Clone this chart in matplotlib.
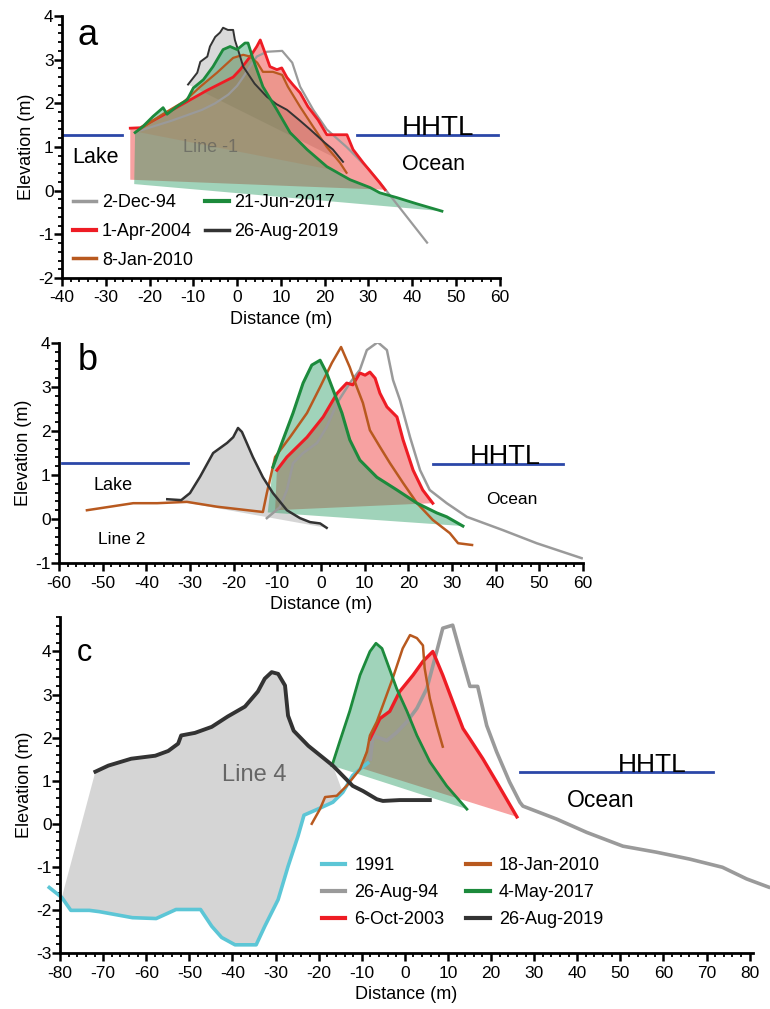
#---------Librerias---------#
import matplotlib
matplotlib.use("Agg")
import matplotlib.pyplot as plt
from matplotlib.lines import Line2D
from matplotlib.ticker import MultipleLocator
#---------Librerias---------#

plt.rcParams['font.family'] = ['Liberation Sans', 'DejaVu Sans']
plt.rcParams['axes.unicode_minus'] = False

#----------Datos panel a----------#
a94_x = [-23, -15, -8, -5, -2, 0, 1.4, 3, 4.5, 6.8, 10.3, 12.6, 14.4, 17.4, 20.5, 25, 30, 33.3, 38, 43.4]
a94_y = [1.35, 1.6, 1.85, 2.0, 2.2, 2.4, 2.6, 2.85, 3.07, 3.18, 3.2, 2.93, 2.38, 1.85, 1.4, 1.0, 0.5, 0.1, -0.5, -1.19]

a04_x = [-24.4, -22.1, -16, -6.8, -0.9, 0.7, 3, 4.5, 5.3, 6.4, 7.5, 9.1, 10.2, 11.4, 12.8, 14.4, 16.2, 18.5,
         20.5, 25.1, 26.5, 28.8, 32.6, 33.8]
a04_y = [1.43, 1.44, 1.78, 2.3, 2.6, 2.77, 3.07, 3.3, 3.45, 3.15, 2.84, 2.77, 2.81, 2.59, 2.42, 2.24, 1.92, 1.62,
         1.28, 1.28, 0.94, 0.64, 0.18, 0.02]
a04_base = (-24.4, 0.25)

a10_x = [-23, -17, -12, -8.4, -4.6, -0.9, 1.4, 3, 4.6, 5.9, 8.2, 10.3, 11.6, 14.4, 17.4, 20.5, 23.5, 25]
a10_y = [1.35, 1.75, 2.05, 2.38, 2.7, 3.04, 3.11, 3.07, 2.93, 2.72, 2.72, 2.65, 2.38, 1.92, 1.46, 1.0, 0.64, 0.41]

a17_x = [-23.3, -21.5, -19.2, -16.9, -16, -13.7, -11.4, -10, -7.7, -5.5, -3.2, -1.6, 0, 1.8, 2.5, 3.7, 5.9,
         9.1, 12.1, 16, 20.5, 25.8, 30.4, 32.6, 36.5, 41, 46.8]
a17_y = [1.33, 1.47, 1.7, 1.9, 1.75, 1.93, 2.08, 2.35, 2.54, 2.84, 3.23, 3.3, 3.23, 3.38, 3.38, 3.0, 2.38,
         1.85, 1.33, 0.94, 0.55, 0.25, 0.07, -0.05, -0.16, -0.3, -0.47]
a17_base = (-23.5, 0.15)

a19_x = [-11.2, -9.1, -8.4, -6.8, -6.2, -5, -3.9, -3.2, -2.1, -0.9, -0.5, 0.7, 1.4, 4.0, 6.8, 9.0, 11.4,
         14.4, 16.7, 20.0, 21.9, 24.2]
a19_y = [2.43, 2.7, 2.95, 3.07, 3.3, 3.52, 3.62, 3.73, 3.68, 3.68, 3.45, 3.07, 2.84, 2.45, 2.15, 1.98, 1.85,
         1.6, 1.4, 1.1, 0.94, 0.66]

#----------Datos panel b----------#
b94_x = [-12.4, -9.4, -7.8, -6.4, -4.1, -0.9, 1.3, 3.7, 6.6, 8.9, 10.5, 13, 15.1, 16.5, 18.1, 20.4, 22.7,
         24.9, 28.8, 33.4, 41.6, 49.4, 59.7]
b94_y = [0.02, 0.27, 0.66, 1.27, 1.5, 1.73, 2.09, 2.64, 3.09, 3.39, 3.84, 4.02, 3.84, 3.16, 2.7, 1.86, 1.11,
         0.66, 0.36, 0.05, -0.25, -0.55, -0.89]

b04_x = [-10.1, -7.8, -3.2, 0.5, 3.7, 5.9, 7.3, 8.9, 10.1, 11.2, 12.4, 13.5, 15.1, 17.4, 18.8, 21.1, 23.3, 25.6]
b04_y = [1.11, 1.41, 1.86, 2.32, 2.86, 3.09, 3.05, 3.32, 3.27, 3.34, 3.2, 2.86, 2.55, 2.32, 1.8, 1.11, 0.66, 0.36]
b04_base = (-10.5, 0.2)

b10_x = [-53.6, -48.3, -43, -37.5, -30.7, -23.8, -13.3, -12.4, -11.7, -10.5, -7.1, -3.2, -0.2, 2.5, 4.6,
         6.6, 8.2, 9.6, 11.2, 13.5, 15.8, 18.8, 22, 25.6, 29.5, 31.4, 34.6]
b10_y = [0.2, 0.28, 0.36, 0.36, 0.39, 0.28, 0.16, 0.59, 0.89, 1.41, 1.86, 2.41, 3.0, 3.55, 3.91,
         3.45, 3.0, 2.64, 2.02, 1.64, 1.27, 0.82, 0.36, -0.02, -0.32, -0.55, -0.59]

b17_x = [-11, -8.7, -6.4, -4.1, -2.1, -0.2, 1.3, 2.8, 4.8, 6.6, 8.9, 12.8, 17.4, 22, 26.5, 28.8, 32.5]
b17_y = [1.18, 1.8, 2.41, 3.09, 3.5, 3.61, 3.32, 2.93, 2.41, 1.8, 1.34, 0.95, 0.66, 0.36, 0.14, 0.05, -0.16]
b17_base = (-12.2, 0.15)

b19_x = [-35.2, -32, -30, -27.7, -24.7, -21.5, -20.1, -19, -18.1, -17, -15.6, -13.3, -11, -7.8, -4.8,
         -2.5, -0.2, 1.3]
b19_y = [0.45, 0.43, 0.59, 0.96, 1.5, 1.73, 1.86, 2.07, 1.98, 1.73, 1.41, 0.95, 0.59, 0.2, 0.02,
         -0.07, -0.1, -0.2]

#----------Datos panel c----------#
c91_x = [-82.5, -79.6, -77.5, -73.2, -70.9, -63.2, -57.7, -53.1, -47.4, -44.8, -42.5, -39.4, -34.5, -32.5,
         -29.4, -27.1, -24.8, -23.4, -20.2, -16.7, -14.4, -12.1, -10.4, -8.6]
c91_y = [-1.48, -1.71, -2.01, -2.01, -2.04, -2.18, -2.2, -1.99, -1.99, -2.38, -2.64, -2.81, -2.81, -2.38,
         -1.76, -0.99, -0.29, 0.2, 0.34, 0.5, 0.73, 1.12, 1.27, 1.41]

c94_x = [-8, -7.4, -4.2, -1.9, 0.5, 2.8, 5.1, 7.4, 8.8, 11.1, 12.8, 15.1, 16.9, 19, 21.3, 24.3, 26.7,
         27.4, 35.2, 42.2, 50.6, 58.4, 66.1, 73.7, 79.3, 84.4]
c94_y = [1.5, 2.05, 1.93, 2.12, 2.37, 2.68, 3.14, 4.0, 4.54, 4.61, 4.0, 3.19, 3.19, 2.28, 1.67, 0.97, 0.5,
         0.41, 0.11, -0.2, -0.52, -0.66, -0.82, -1.01, -1.28, -1.47]

c03_x = [-8.1, -5.8, -3.5, -1.2, 1.9, 4.2, 6.5, 8.8, 11.1, 13.5, 15.1, 18.1, 21.3, 26]
c03_y = [1.97, 2.44, 2.61, 3.07, 3.45, 3.77, 4.0, 3.45, 2.84, 2.21, 1.97, 1.51, 0.97, 0.16]
c03_base = (-10.4, 1.3)

c10_x = [-21.6, -19.7, -18.5, -15.8, -13.5, -12.8, -10.4, -8.8, -8.1, -6.5, -5.1, -2.8, -0.5, 1.2, 2.8,
         4.2, 4.6, 5.8, 7.4, 8.8]
c10_y = [0.0, 0.34, 0.62, 0.65, 0.88, 0.97, 1.27, 1.67, 2.05, 2.37, 2.75, 3.38, 4.07, 4.38, 4.31,
         4.14, 3.61, 2.91, 2.28, 1.79]

c17_x = [-16.9, -15.1, -12.8, -10.4, -8.1, -6.7, -5.3, -4.2, -1.9, 0.5, 2.8, 5.8, 9.7, 14.4]
c17_y = [1.35, 1.91, 2.61, 3.45, 4.0, 4.19, 4.07, 3.77, 3.14, 2.61, 2.05, 1.44, 0.88, 0.34]

c19_x = [-71.8, -68.8, -63.5, -57.9, -54.9, -52.6, -51.9, -48.7, -44.8, -41.1, -37.1, -34.1, -32.5, -30.9,
         -29.4, -27.8, -27.1, -25.8, -22.4, -16.7, -12.1, -9.7, -6.5, -5.1, -1.2, 5.8]
c19_y = [1.21, 1.35, 1.51, 1.58, 1.69, 1.86, 2.05, 2.11, 2.25, 2.49, 2.72, 3.07, 3.37, 3.52,
         3.48, 3.21, 2.51, 2.16, 1.81, 1.35, 0.88, 0.76, 0.57, 0.53, 0.55, 0.55]

#----------Colores---------#
GRIS = '#9a9a9a'
ROJO = '#ee1c24'
CAFE = '#b8591f'
VERDE = '#1c8a3c'
NEGRO = '#333333'
CIAN = '#5cc6d6'
AZUL = '#2b47a8'
R_ROJO = '#ee3030'
R_VERDE = '#2e9e66'
R_GRIS = '#b4b4b4'


def ejes(ax, xmin, xmax, ymin, ymax, ymaj):
    ax.set_xlim(xmin, xmax)
    ax.set_ylim(ymin, ymax)
    ax.spines['top'].set_visible(False)
    ax.spines['right'].set_visible(False)
    ax.spines['left'].set_linewidth(2)
    ax.spines['bottom'].set_linewidth(2)
    ax.xaxis.set_major_locator(MultipleLocator(10))
    ax.xaxis.set_minor_locator(MultipleLocator(2))
    ax.yaxis.set_major_locator(MultipleLocator(ymaj))
    ax.yaxis.set_minor_locator(MultipleLocator(0.2))
    ax.tick_params(which='major', length=5.5, width=1.8, labelsize=12.5, direction='out')
    ax.tick_params(axis='x', which='major', pad=3.5)
    ax.tick_params(axis='y', which='major', pad=0.5)
    ax.tick_params(which='minor', length=3.2, width=1.3, direction='out')
    ax.set_xlabel('Distance (m)', fontsize=13, labelpad=4)
    ax.set_ylabel('Elevation (m)', fontsize=13, labelpad=2)


def relleno(ax, x, y, color, alpha, base=None):
    px = list(x)
    py = list(y)
    if base is not None:
        px.append(base[0])
        py.append(base[1])
    ax.fill(px, py, color=color, alpha=alpha, lw=0)


fig = plt.figure(figsize=(7.70, 10.09), dpi=100)

#----------Panel a----------#
ax1 = fig.add_axes([0.0805, 0.7245, 0.5685, 0.2597])
ejes(ax1, -40, 60, -2, 4, 1)
relleno(ax1, a19_x, a19_y, R_GRIS, 0.5)
relleno(ax1, a04_x, a04_y, R_ROJO, 0.45, a04_base)
relleno(ax1, a17_x, a17_y, R_VERDE, 0.45, a17_base)
relleno(ax1, a10_x, a10_y, CAFE, 0.15)
ax1.plot(a94_x, a94_y, color=GRIS, lw=1.6)
ax1.plot(a04_x, a04_y, color=ROJO, lw=2.0)
ax1.plot(a10_x, a10_y, color=CAFE, lw=1.6)
ax1.plot(a19_x, a19_y, color=NEGRO, lw=1.4)
ax1.plot(a17_x, a17_y, color=VERDE, lw=2.0)
ax1.plot([-40, -26.3], [1.28, 1.28], color=AZUL, lw=2)
ax1.plot([27.5, 59.5], [1.28, 1.28], color=AZUL, lw=2)
ax1.text(-36.5, 3.34, 'a', fontsize=26)
ax1.text(-37.7, 0.64, 'Lake', fontsize=15.5)
ax1.text(37.7, 1.28, 'HHTL', fontsize=20)
ax1.text(37.7, 0.48, 'Ocean', fontsize=15.5)
ax1.text(-12.3, 0.89, 'Line -1', fontsize=13, color='#555555', alpha=0.6)
man_a = [Line2D([], [], color=GRIS, lw=2.5), Line2D([], [], color=ROJO, lw=3),
         Line2D([], [], color=CAFE, lw=2.5), Line2D([], [], color=VERDE, lw=3),
         Line2D([], [], color=NEGRO, lw=2.5)]
ax1.legend(man_a, ['2-Dec-94', '1-Apr-2004', '8-Jan-2010', '21-Jun-2017', '26-Aug-2019'],
           ncol=2, frameon=False, loc='upper left', bbox_to_anchor=(0.025, 0.32), fontsize=13,
           borderpad=0, borderaxespad=0, handlelength=1.3, handletextpad=0.3,
           columnspacing=0.7, labelspacing=0.65)

#----------Panel b----------#
ax2 = fig.add_axes([0.0766, 0.442, 0.6805, 0.218])
ejes(ax2, -60, 60, -1, 4, 1)
relleno(ax2, b19_x, b19_y, R_GRIS, 0.55)
relleno(ax2, b04_x, b04_y, R_ROJO, 0.45, b04_base)
relleno(ax2, b17_x, b17_y, R_VERDE, 0.45, b17_base)
ax2.plot(b94_x, b94_y, color=GRIS, lw=1.8)
ax2.plot(b04_x, b04_y, color=ROJO, lw=2.2)
ax2.plot(b10_x, b10_y, color=CAFE, lw=1.8)
ax2.plot(b17_x, b17_y, color=VERDE, lw=2.2)
ax2.plot(b19_x, b19_y, color=NEGRO, lw=1.8)
ax2.plot([-59.3, -30.4], [1.27, 1.27], color=AZUL, lw=2)
ax2.plot([25.6, 55.4], [1.25, 1.25], color=AZUL, lw=2)
ax2.text(-55.8, 3.39, 'b', fontsize=26)
ax2.text(-52.2, 0.66, 'Lake', fontsize=13)
ax2.text(-51, -0.57, 'Line 2', fontsize=12.5)
ax2.text(34.1, 1.25, 'HHTL', fontsize=19.5)
ax2.text(37.8, 0.34, 'Ocean', fontsize=12.5)

#----------Panel c----------#
ax3 = fig.add_axes([0.078, 0.0555, 0.9, 0.333])
ejes(ax3, -80, 80.8, -3, 4.8, 1)
lim = -13.5
borde_x = [v for v in c19_x if v <= lim]
borde_y = [c19_y[i] for i in range(len(c19_x)) if c19_x[i] <= lim]
fondo = [(c91_x[i], c91_y[i]) for i in range(len(c91_x)) if -80 <= c91_x[i] <= lim]
fondo.reverse()
ax3.fill(borde_x + [p[0] for p in fondo], borde_y + [p[1] for p in fondo], color='#c8c8c8', alpha=0.75, lw=0)
relleno(ax3, c03_x, c03_y, R_ROJO, 0.45, c03_base)
relleno(ax3, c17_x, c17_y, R_VERDE, 0.45)
ax3.plot(c91_x, c91_y, color=CIAN, lw=2.6, clip_on=False)
ax3.plot(c94_x, c94_y, color=GRIS, lw=2.6, clip_on=False)
ax3.plot(c03_x, c03_y, color=ROJO, lw=2.4)
ax3.plot(c10_x, c10_y, color=CAFE, lw=1.8)
ax3.plot(c17_x, c17_y, color=VERDE, lw=2.0)
ax3.plot(c19_x, c19_y, color=NEGRO, lw=2.8)
ax3.plot([26.7, 71.4], [1.2, 1.2], color=AZUL, lw=2)
ax3.text(-76.1, 3.79, 'c', fontsize=22)
ax3.text(-42.4, 1.0, 'Line 4', fontsize=17, color='#666666')
ax3.text(49.4, 1.2, 'HHTL', fontsize=19)
ax3.text(37.6, 0.39, 'Ocean', fontsize=16.5)
man_c = [Line2D([], [], color=CIAN, lw=3), Line2D([], [], color=GRIS, lw=3),
         Line2D([], [], color=ROJO, lw=3), Line2D([], [], color=CAFE, lw=3),
         Line2D([], [], color=VERDE, lw=3), Line2D([], [], color=NEGRO, lw=3)]
ax3.legend(man_c, ['1991', '26-Aug-94', '6-Oct-2003', '18-Jan-2010', '4-May-2017', '26-Aug-2019'],
           ncol=2, frameon=False, loc='upper left', bbox_to_anchor=(0.378, 0.285), fontsize=13,
           borderpad=0, borderaxespad=0, handlelength=1.3, handletextpad=0.5,
           columnspacing=1.2, labelspacing=0.55)

plt.savefig("out.png", dpi=100)
plt.close()
